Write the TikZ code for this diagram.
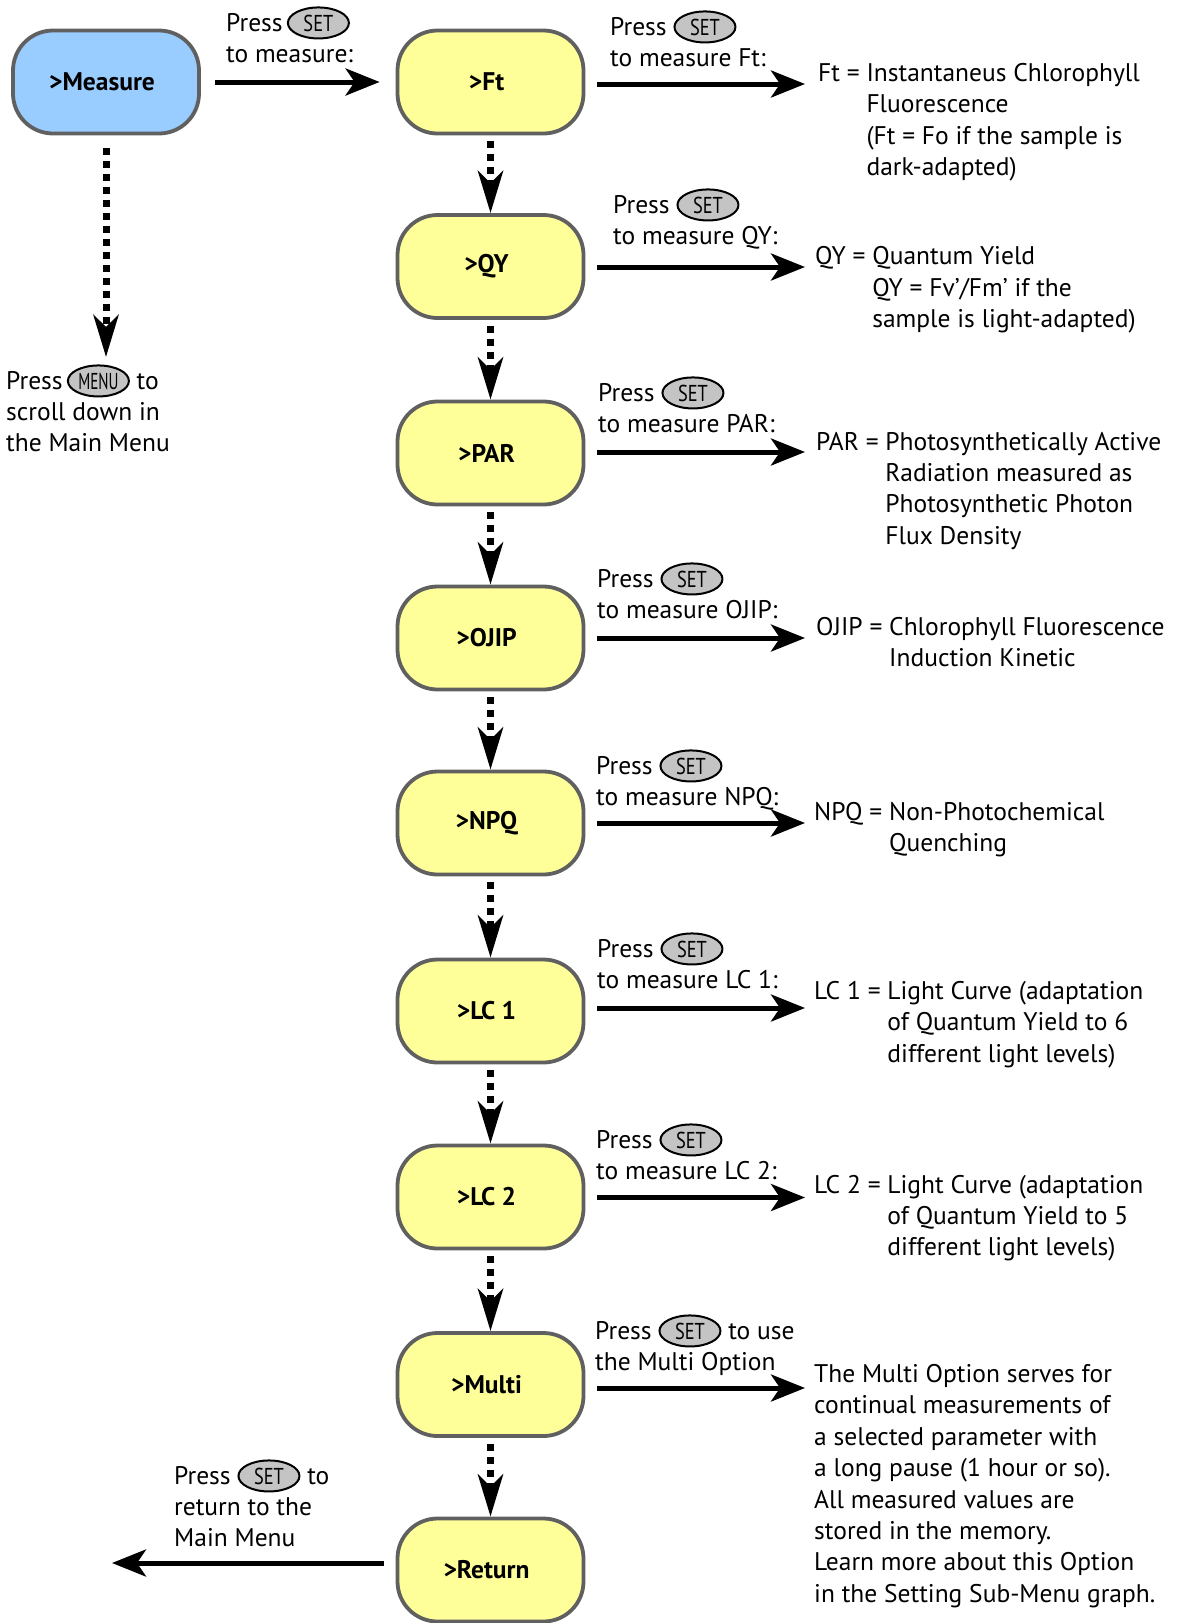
\documentclass[tikz,border=0pt]{standalone}
\usepackage{fontspec}
\usepackage{graphicx}
\setmainfont{PT Sans}
\usetikzlibrary{arrows.meta,shapes.geometric}

\definecolor{menublue}{HTML}{99CCFF}
\definecolor{stepyellow}{HTML}{FFFF99}
\definecolor{rimgray}{HTML}{606060}
\definecolor{keygray}{HTML}{C4C4C4}

\newcommand\notefont{\fontsize{25.5}{31.4}\selectfont}
\newcommand\boxfont{\fontsize{25.5}{25.5}\selectfont\bfseries}

\tikzset{
  keynode/.style={ellipse, draw=black, line width=2pt, fill=keygray,
    minimum width=61pt, minimum height=31pt, inner sep=0pt, anchor=center,
    font=\fontsize{23}{23}\selectfont},
  stepbox/.style={draw=rimgray, line width=3.8pt, fill=stepyellow,
    rounded corners=40pt, minimum width=186pt, minimum height=103pt,
    inner sep=0pt, font=\boxfont, execute at end node={\hspace*{8pt}}},
  menubox/.style={stepbox, fill=menublue},
  vlink/.style={line width=7pt, dash pattern=on 7pt off 6pt,
    -{Stealth[length=42pt,width=25pt,inset=12pt]}},
  hlink/.style={line width=5pt, -{Stealth[length=34pt,width=27pt,inset=9pt]}},
  note/.style={anchor=base west, inner sep=0pt, font=\notefont},
}

% oval push-button drawn inline with the text
\newcommand\keycap[2][0.8]{\smash{\tikz[baseline=(kc.base)]\node[keynode](kc){\scalebox{#1}[1]{#2}};}}

\begin{document}
\begin{tikzpicture}[x=1pt,y=-1pt]
\useasboundingbox (0,0) rectangle (1181,1623);

% menu entries
\node[menubox] (measure) at (106,82) {>Measure};
\node[stepbox] (ft)    at (490.5,82)     {>Ft};
\node[stepbox] (qy)    at (490.5,266.5)  {>QY};
\node[stepbox] (par)   at (490.5,453)    {>PAR};
\node[stepbox] (ojip)  at (490.5,638)    {>OJIP};
\node[stepbox] (npq)   at (490.5,823)    {>NPQ};
\node[stepbox] (lc1)   at (490.5,1011)   {>LC 1};
\node[stepbox] (lc2)   at (490.5,1197)   {>LC 2};
\node[stepbox] (multi) at (490.5,1384.5) {>Multi};
\node[stepbox] (ret)   at (490.5,1570)   {>Return};

% scrolling through the menu
\coordinate (menutip) at (106,357);
\draw[vlink, shorten <=13pt] (measure) -- (menutip);
\foreach \a/\b in {ft/qy, qy/par, par/ojip, ojip/npq, npq/lc1, lc1/lc2, lc2/multi, multi/ret}
  \draw[vlink, shorten <=6pt] (\a) -- (\b);

% entering and measuring
\draw[hlink, shorten <=14pt, shorten >=16pt] (measure) -- (ft);
\foreach \n/\y in {ft/84, qy/267, par/452, ojip/638, npq/823, lc1/1008, lc2/1197.5, multi/1388} {
  \coordinate (\n-tip) at (805,\y);
  \draw[hlink, shorten <=12pt] (\n.east |- \n-tip) -- (\n-tip);
}
\coordinate (backtip) at (112,1563);
\coordinate (backstart) at (ret.west |- backtip);
\draw[hlink, shorten <=12pt] (backstart) -- (backtip);

% key instructions
\node[note] (kmeasure) at (226,31) {\begin{tabular}[t]{@{}l@{}}Press\,\keycap{SET}\\to measure:\end{tabular}};
\node[note] (kmenu) at (6,389) {\begin{tabular}[t]{@{}l@{}}Press\,\keycap[0.66]{MENU} to\\scroll down in\\the Main Menu\end{tabular}};
\node[note] (kft) at (610,35) {\begin{tabular}[t]{@{}l@{}}Press \keycap{SET}\\to measure Ft:\end{tabular}};
\node[note] (kqy) at (613,213) {\begin{tabular}[t]{@{}l@{}}Press \keycap{SET}\\to measure QY:\end{tabular}};
\node[note] (kpar) at (598,401) {\begin{tabular}[t]{@{}l@{}}Press \keycap{SET}\\to measure PAR:\end{tabular}};
\node[note] (kojip) at (597,587) {\begin{tabular}[t]{@{}l@{}}Press \keycap{SET}\\to measure OJIP:\end{tabular}};
\node[note] (knpq) at (596,774) {\begin{tabular}[t]{@{}l@{}}Press \keycap{SET}\\to measure NPQ:\end{tabular}};
\node[note] (klc1) at (597,957) {\begin{tabular}[t]{@{}l@{}}Press \keycap{SET}\\to measure LC 1:\end{tabular}};
\node[note] (klc2) at (596,1148) {\begin{tabular}[t]{@{}l@{}}Press \keycap{SET}\\to measure LC 2:\end{tabular}};
\node[note] (kmulti) at (595,1339) {\begin{tabular}[t]{@{}l@{}}Press \keycap{SET} to use\\the Multi Option\end{tabular}};
\node[note] (kret) at (174,1484) {\begin{tabular}[t]{@{}l@{}}Press \keycap{SET} to\\return to the\\Main Menu\end{tabular}};

% explanations
\node[note] (dft) at (818,81.5) {\begin{tabular}[t]{@{}l@{ }l@{}}Ft =&Instantaneus Chlorophyll\\&Fluorescence\\&(Ft = Fo if the sample is\\&dark-adapted)\end{tabular}};
\node[note] (dqy) at (815,264.7) {\begin{tabular}[t]{@{}l@{ }l@{}}QY =&Quantum Yield\\&QY = Fv'/Fm' if the\\&sample is light-adapted)\end{tabular}};
\node[note] (dpar) at (816,450) {\begin{tabular}[t]{@{}l@{ }l@{}}PAR =&Photosynthetically Active\\&Radiation measured as\\&Photosynthetic Photon\\&Flux Density\end{tabular}};
\node[note] (dojip) at (816,635) {\begin{tabular}[t]{@{}l@{ }l@{}}OJIP =&Chlorophyll Fluorescence\\&Induction Kinetic\end{tabular}};
\node[note] (dnpq) at (814,820.5) {\begin{tabular}[t]{@{}l@{ }l@{}}NPQ =&Non-Photochemical\\&Quenching\end{tabular}};
\node[note] (dlc1) at (814,999.5) {\begin{tabular}[t]{@{}l@{ }l@{}}LC 1 =&Light Curve (adaptation\\&of Quantum Yield to 6\\&different light levels)\end{tabular}};
\node[note] (dlc2) at (814,1193) {\begin{tabular}[t]{@{}l@{ }l@{}}LC 2 =&Light Curve (adaptation\\&of Quantum Yield to 5\\&different light levels)\end{tabular}};
\node[note] (dmulti) at (814,1382.5) {\begin{tabular}[t]{@{}l@{}}The Multi Option serves for\\continual measurements of\\a selected parameter with\\a long pause (1 hour or so).\\All measured values are\\stored in the memory.\\Learn more about this Option\\in the Setting Sub-Menu graph.\end{tabular}};
\end{tikzpicture}
\end{document}
